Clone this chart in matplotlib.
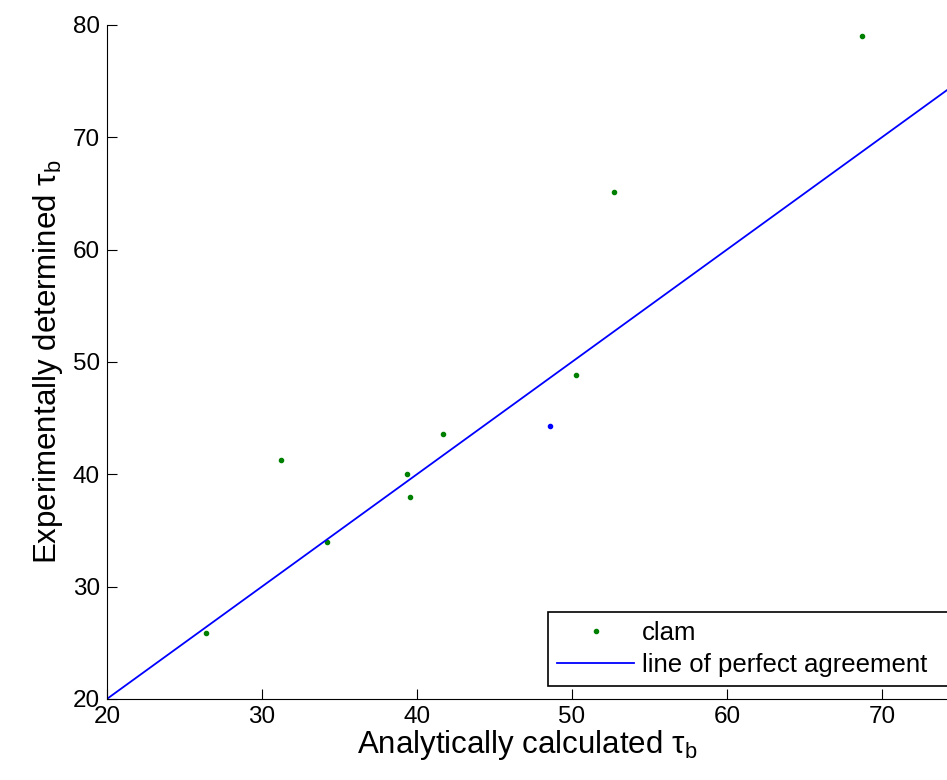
import numpy as np
import matplotlib
matplotlib.use('Agg')
import matplotlib.pyplot as plt

plt.rcParams['font.family'] = ['Liberation Sans', 'DejaVu Sans']
plt.rcParams['mathtext.fontset'] = 'custom'
plt.rcParams['mathtext.rm'] = 'Liberation Sans'
plt.rcParams['mathtext.it'] = 'Liberation Sans:italic'

# clam data (analytical vs experimental tau_b)
clam_x = [26.4, 31.25, 34.2, 39.37, 39.55, 41.7, 50.28, 52.71, 68.71]
clam_y = [25.87, 41.25, 33.95, 40.03, 38.01, 43.56, 48.87, 65.13, 79.02]
# extra point (blue)
other_x = [48.56]
other_y = [44.27]
# line of perfect agreement
line_x = [20, 80]
line_y = [20, 80]

fig = plt.figure(figsize=(9.47, 7.8), dpi=100)
ax = fig.add_axes([0.113, 0.104, 0.887, 0.864])

ax.plot(clam_x, clam_y, '.', color=(0, 0.5, 0), markersize=6, label='clam')
ax.plot(line_x, line_y, '-', color=(0, 0, 1), linewidth=1.3, label='line of perfect agreement')
ax.plot(other_x, other_y, '.', color=(0, 0, 1), markersize=6)

ax.set_xlim(20, 74.2)
ax.set_ylim(20, 80)
ax.set_xticks([20, 30, 40, 50, 60, 70])
ax.set_yticks([20, 30, 40, 50, 60, 70, 80])
ax.spines['top'].set_visible(False)
ax.spines['right'].set_visible(False)
ax.tick_params(direction='in', length=7, labelsize=17.5, pad=5)

ax.set_xlabel('Analytically calculated τ$_\\mathrm{b}$', fontsize=22.5, labelpad=0)
ax.set_ylabel('Experimentally determined τ$_\\mathrm{b}$', fontsize=22.5, labelpad=6)

# legend box starts at x~548 px and runs past the right edge
leg = ax.legend(loc='lower left', bbox_to_anchor=(0.525, 0.019, 0.5, 0.11),
                mode='expand', fontsize=18.5,
                frameon=True, fancybox=False, edgecolor='black', framealpha=1,
                borderpad=0.35, handlelength=3.0, handletextpad=0.3,
                labelspacing=0.3, borderaxespad=0)
leg.get_frame().set_linewidth(1.2)

fig.savefig('out.png', dpi=100)
